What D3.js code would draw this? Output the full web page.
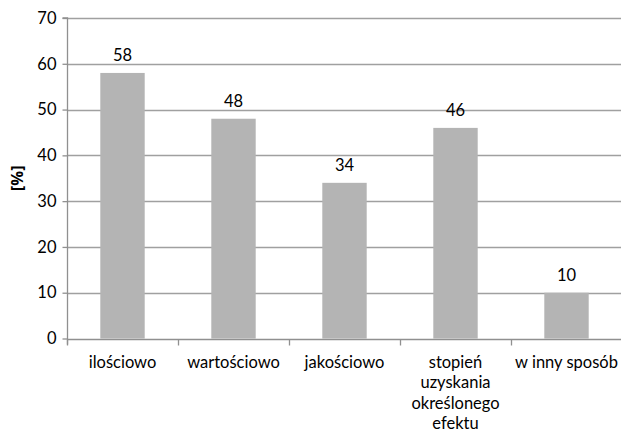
<!DOCTYPE html>
<html><head><meta charset="utf-8">
<script src="https://cdn.jsdelivr.net/npm/d3@7"></script>
<style>body{margin:0;background:#fff}svg{display:block}text{font-family:Lato,"Open Sans",sans-serif;fill:#000}</style>
</head><body><svg id="c" width="621" height="433"></svg>
<script>
const categories = [["ilościowo"],["wartościowo"],["jakościowo"],["stopień","uzyskania","określonego","efektu"],["w inny sposób"]];
const values = [58,48,34,46,10];
const yTicks = [0,10,20,30,40,50,60,70];

const svg = d3.select("#c");
const L = 67, R = 622, T = 18, B = 338.5;
const x = d3.scaleBand().domain(d3.range(categories.length)).range([L, R]).paddingInner(0.6).paddingOuter(0.3);
const y = d3.scaleLinear().domain([0,70]).range([B, T]);
const fs = 16.5;

// gridlines
svg.append("g").selectAll("line").data(yTicks.filter(d=>d>0)).join("line")
  .attr("x1", L).attr("x2", 621).attr("y1", d=>Math.round(y(d))+0.5).attr("y2", d=>Math.round(y(d))+0.5)
  .attr("stroke", "#a0a0a0").attr("stroke-width", 1.3);

// bars
svg.append("g").selectAll("rect").data(values).join("rect")
  .attr("x", (d,i)=>x(i)).attr("width", x.bandwidth())
  .attr("y", d=>y(d)).attr("height", d=>B - y(d)).attr("fill", "#b4b4b4");

// y axis
const ya = svg.append("g").attr("transform", `translate(${L+0.5},0)`)
  .call(d3.axisLeft(y).tickValues(yTicks).tickSize(5).tickPadding(6));
ya.select(".domain").attr("stroke", "#909090").attr("stroke-width",1.3).attr("d", `M-5,${T}H0V${B+6}`);
ya.selectAll(".tick line").attr("stroke", "#909090").attr("stroke-width",1.3);
ya.selectAll(".tick text").attr("font-size", fs).attr("font-family","Lato,sans-serif").attr("fill","#000");

// x axis
const xa = svg.append("g").attr("transform", `translate(0,${Math.round(B)+0.5})`);
xa.append("line").attr("x1", L).attr("x2", 621).attr("stroke", "#909090").attr("stroke-width",1.3);
const step = x.step();
xa.selectAll("line.t").data(d3.range(categories.length+1)).join("line").attr("class","t")
  .attr("x1", i=>L + 0.5 + i*step).attr("x2", i=>L + 0.5 + i*step).attr("y1",0).attr("y2",6)
  .attr("stroke", "#909090").attr("stroke-width",1.3);
const lab = svg.append("g").selectAll("text").data(categories).join("text")
  .attr("text-anchor","middle").attr("font-size", fs)
  .attr("transform", (d,i)=>`translate(${x(i)+x.bandwidth()/2},368)`);
lab.selectAll("tspan").data(d=>d).join("tspan").attr("x",0).attr("dy",(d,j)=>j?20.4:0).text(d=>d);

// value labels
svg.append("g").selectAll("text").data(values).join("text")
  .attr("x",(d,i)=>x(i)+x.bandwidth()/2).attr("y", d=>y(d)-12)
  .attr("text-anchor","middle").attr("font-size", fs).text(d=>d);

// y label
svg.append("text").attr("transform", `translate(23,${(T+B)/2}) rotate(-90)`)
  .attr("text-anchor","middle").attr("font-size", 16.5).attr("font-weight","bold")
  .style("font-family","'Open Sans','Liberation Sans',sans-serif").text("[%]");
</script></body></html>
